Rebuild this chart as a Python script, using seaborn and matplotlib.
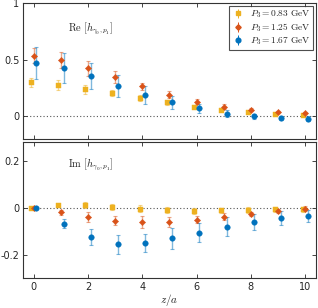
import numpy as np
import pandas as pd
import seaborn as sns
import matplotlib.pyplot as plt

z = np.arange(0, 11)
momenta = ["0.83", "1.25", "1.67"]

re_083 = [0.30, 0.277, 0.238, 0.203, 0.158, 0.12, 0.084, 0.057, 0.033, 0.018, 0.012]
re_083_err = [0.04, 0.045, 0.04, 0.03, 0.025, 0.02, 0.015, 0.012, 0.01, 0.008, 0.008]
re_125 = [0.535, 0.495, 0.423, 0.345, 0.262, 0.188, 0.128, 0.084, 0.057, 0.036, 0.027]
re_125_err = [0.07, 0.07, 0.067, 0.05, 0.03, 0.03, 0.02, 0.02, 0.015, 0.01, 0.01]
re_167 = [0.47, 0.426, 0.354, 0.268, 0.19, 0.12, 0.069, 0.02, -0.003, -0.018, -0.024]
re_167_err = [0.14, 0.13, 0.115, 0.097, 0.08, 0.055, 0.04, 0.03, 0.025, 0.02, 0.02]

im_083 = [0.0, 0.011, 0.011, 0.003, -0.003, -0.01, -0.013, -0.011, -0.01, -0.006, -0.007]
im_083_err = [0.003, 0.008, 0.012, 0.012, 0.014, 0.012, 0.012, 0.012, 0.012, 0.01, 0.01]
im_125 = [0.0, -0.02, -0.04, -0.055, -0.062, -0.061, -0.051, -0.038, -0.026, -0.014, -0.003]
im_125_err = [0.003, 0.01, 0.02, 0.02, 0.025, 0.02, 0.015, 0.015, 0.01, 0.01, 0.01]
im_167 = [0.0, -0.068, -0.125, -0.155, -0.15, -0.13, -0.106, -0.081, -0.06, -0.043, -0.034]
im_167_err = [0.003, 0.02, 0.033, 0.04, 0.04, 0.045, 0.04, 0.04, 0.035, 0.03, 0.025]

colors = ["#EDB120", "#D95319", "#0072BD"]
markers = ["s", "D", "o"]
msizes = [3.6, 3.2, 4.0]
shifts = [-0.1, 0.0, 0.1]

sns.set_style("ticks")
plt.rcParams["mathtext.fontset"] = "cm"
plt.rcParams["font.family"] = ["DejaVu Sans"]

fig = plt.figure(figsize=(3.18, 3.08), dpi=100)
ax1 = fig.add_axes([0.072, 0.55, 0.922, 0.44])
ax2 = fig.add_axes([0.072, 0.0964, 0.922, 0.4426])

panels = [
    (ax1, [re_083, re_125, re_167], [re_083_err, re_125_err, re_167_err]),
    (ax2, [im_083, im_125, im_167], [im_083_err, im_125_err, im_167_err]),
]

for ax, vals, errs in panels:
    ax.axhline(0, color="#555555", ls=(0, (1, 2)), lw=0.8, zorder=0)
    for i, p in enumerate(momenta):
        df = pd.DataFrame({"z": z + shifts[i], "val": vals[i], "err": errs[i]})
        ax.errorbar(df["z"], df["val"], yerr=df["err"], fmt="none",
                    ecolor=colors[i], alpha=0.5, elinewidth=1.0, capsize=1.5,
                    capthick=0.8, zorder=2)
        sns.scatterplot(data=df, x="z", y="val", ax=ax, color=colors[i],
                        marker=markers[i], s=msizes[i] ** 2, edgecolor=colors[i],
                        linewidth=0.3, zorder=3, legend=False)
    ax.set_xlim(-0.4, 10.4)
    ax.set_xticks([0, 2, 4, 6, 8, 10])
    ax.tick_params(direction="in", top=True, right=True, labelsize=7,
                   length=3, width=0.6, pad=2.5)
    ax.set_ylabel("")
    for s in ax.spines.values():
        s.set_linewidth(0.8)
        s.set_color("#333333")

ax1.set_ylim(-0.2, 1.0)
ax1.set_yticks([0, 0.5, 1])
ax1.set_yticklabels(["0", "0.5", "1"])
ax1.set_xticklabels([])
ax1.set_xlabel("")
ax1.text(1.25, 0.75, r"$\mathrm{Re}\ [h_{\gamma_0,p_1}]$", fontsize=7.5)

ax2.set_ylim(-0.3, 0.28)
ax2.set_yticks([-0.2, 0, 0.2])
ax2.set_yticklabels(["-0.2", "0", "0.2"])
ax2.set_xticklabels(["0", "2", "4", "6", "8", "10"])
ax2.set_xlabel(r"$z/a$", fontsize=8, labelpad=0)
ax2.text(1.25, 0.17, r"$\mathrm{Im}\ [h_{\gamma_0,p_1}]$", fontsize=7.5)

handles = []
for i, p in enumerate(momenta):
    h = ax1.errorbar([], [], yerr=[], fmt=markers[i], color=colors[i],
                     markersize=msizes[i] * 0.85, ecolor=colors[i], elinewidth=0.7,
                     capsize=1.3, capthick=0.6, label=r"$P_3 = %s\ \mathrm{GeV}$" % p)
    handles.append(h)
leg = ax1.legend(handles=handles, loc="upper right", fontsize=6.8,
                 frameon=True, fancybox=False, edgecolor="#222222",
                 handlelength=1.4, handletextpad=0.5, borderpad=0.3,
                 labelspacing=0.12, borderaxespad=0.3)
leg.get_frame().set_linewidth(0.8)

fig.savefig("out.png", dpi=100)
